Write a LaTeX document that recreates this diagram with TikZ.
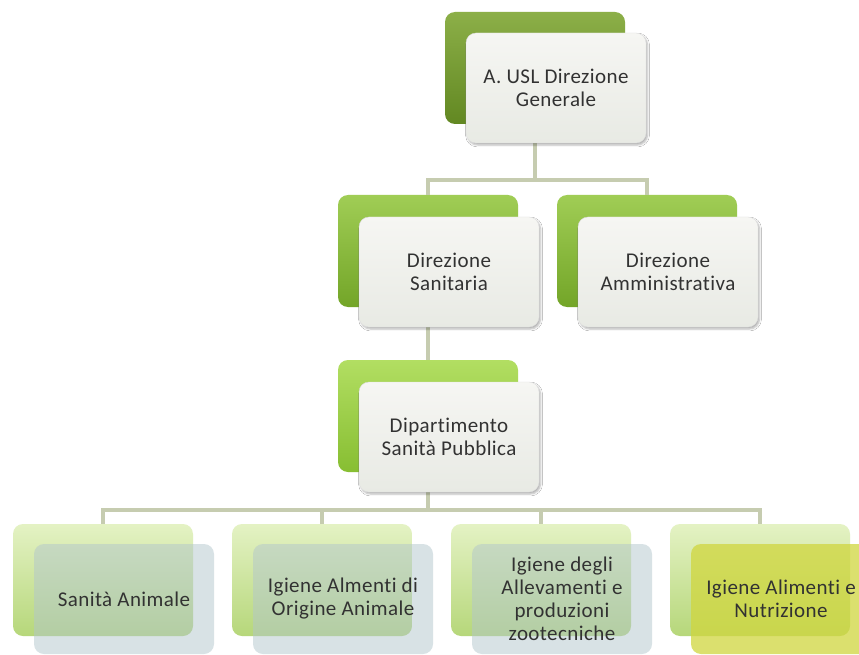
\documentclass[tikz,border=0pt]{standalone}
\usepackage{fontspec}
\setmainfont{Carlito}[LetterSpace=2, Ligatures=NoCommon]
\usetikzlibrary{calc,shadows.blur}

\definecolor{linkgray}{RGB}{198,204,176}
\definecolor{txtgray}{RGB}{50,50,50}
\definecolor{greenAtop}{RGB}{140,175,72}
\definecolor{greenAbot}{RGB}{98,136,34}
\definecolor{greenBtop}{RGB}{160,205,85}
\definecolor{greenBbot}{RGB}{115,165,40}
\definecolor{greenCtop}{RGB}{178,222,98}
\definecolor{greenCbot}{RGB}{135,190,50}
\definecolor{greenDtop}{RGB}{228,242,196}
\definecolor{greenDbot}{RGB}{182,215,122}
\definecolor{cardtop}{RGB}{246,246,243}
\definecolor{cardbot}{RGB}{232,234,228}
\definecolor{glassblue}{RGB}{178,198,204}
\definecolor{glassyellow}{RGB}{208,214,62}

\begin{document}
\begin{tikzpicture}[x=1pt, y=-1pt,
  back/.style={
    rectangle, rounded corners=10pt, inner sep=0pt,
    minimum width=180pt, minimum height=112pt},
  backA/.style={back, top color=greenAtop, bottom color=greenAbot},
  backB/.style={back, top color=greenBtop, bottom color=greenBbot},
  backC/.style={back, top color=greenCtop, bottom color=greenCbot},
  backD/.style={back, top color=greenDtop, bottom color=greenDbot},
  front/.style={
    rectangle, rounded corners=10pt, inner sep=0pt,
    minimum width=180pt, minimum height=110pt,
    align=center, text=txtgray, font=\fontsize{21}{23}\selectfont},
  card/.style={front, top color=cardtop, bottom color=cardbot, draw=gray!25,
    blur shadow={shadow xshift=1.5pt, shadow yshift=-2pt, shadow opacity=30}},
  glass/.style={front, fill=glassblue, fill opacity=0.5, text opacity=1},
  glassy/.style={front, fill=glassyellow, fill opacity=0.75, text opacity=1},
  link/.style={line width=3.5pt, draw=linkgray},
]

\useasboundingbox (0,0) rectangle (859,655);
\clip (0,0) rectangle (859,655);
\fill[white] (0,0) rectangle (859,655);

%% ---- Back boxes ----
\node[backA] (topb) at (535, 68)  {};
\node[backB] (sanb) at (428, 251) {};
\node[backB] (ammb) at (647, 251) {};
\node[backC] (dipb) at (428, 416) {};
\node[backD] (sab)  at (103, 580) {};
\node[backD] (iab)  at (322, 580) {};
\node[backD] (izb)  at (541, 580) {};
\node[backD] (inb)  at (760, 580) {};

%% ---- Connectors ----
\coordinate (busA) at (535, 180);
\coordinate (busB) at (428, 510);
\draw[link] (topb.south) -- (busA) -| (sanb.north);
\draw[link] (busA) -| (ammb.north);
\draw[link] (sanb.south) -- (dipb.north);
\draw[link] (dipb.south) -- (busB);
\foreach \n in {sab,iab,izb,inb}
  \draw[link] (busB) -| (\n.north);

%% ---- Front boxes ----
\node[card]   (topf) at ($(topb)+(21,20)$) {A. USL Direzione\\Generale};
\node[card]   (sanf) at ($(sanb)+(21,21)$) {Direzione\\Sanitaria};
\node[card]   (ammf) at ($(ammb)+(21,21)$) {Direzione\\Amministrativa};
\node[card]   (dipf) at ($(dipb)+(21,21)$) {Dipartimento\\Sanità Pubblica};
\node[glass]  (saf)  at ($(sab)+(21,19)$)  {Sanità Animale};
\node[glass]  (iaf)  at ($(iab)+(21,19)$)  {Igiene Almenti di\\Origine Animale};
\node[glass]  (izf)  at ($(izb)+(21,19)$)  {Igiene degli\\Allevamenti e\\produzioni\\zootecniche};
\node[glassy] (inf)  at ($(inb)+(21,19)$)  {Igiene Alimenti e\\Nutrizione};

\end{tikzpicture}
\end{document}
